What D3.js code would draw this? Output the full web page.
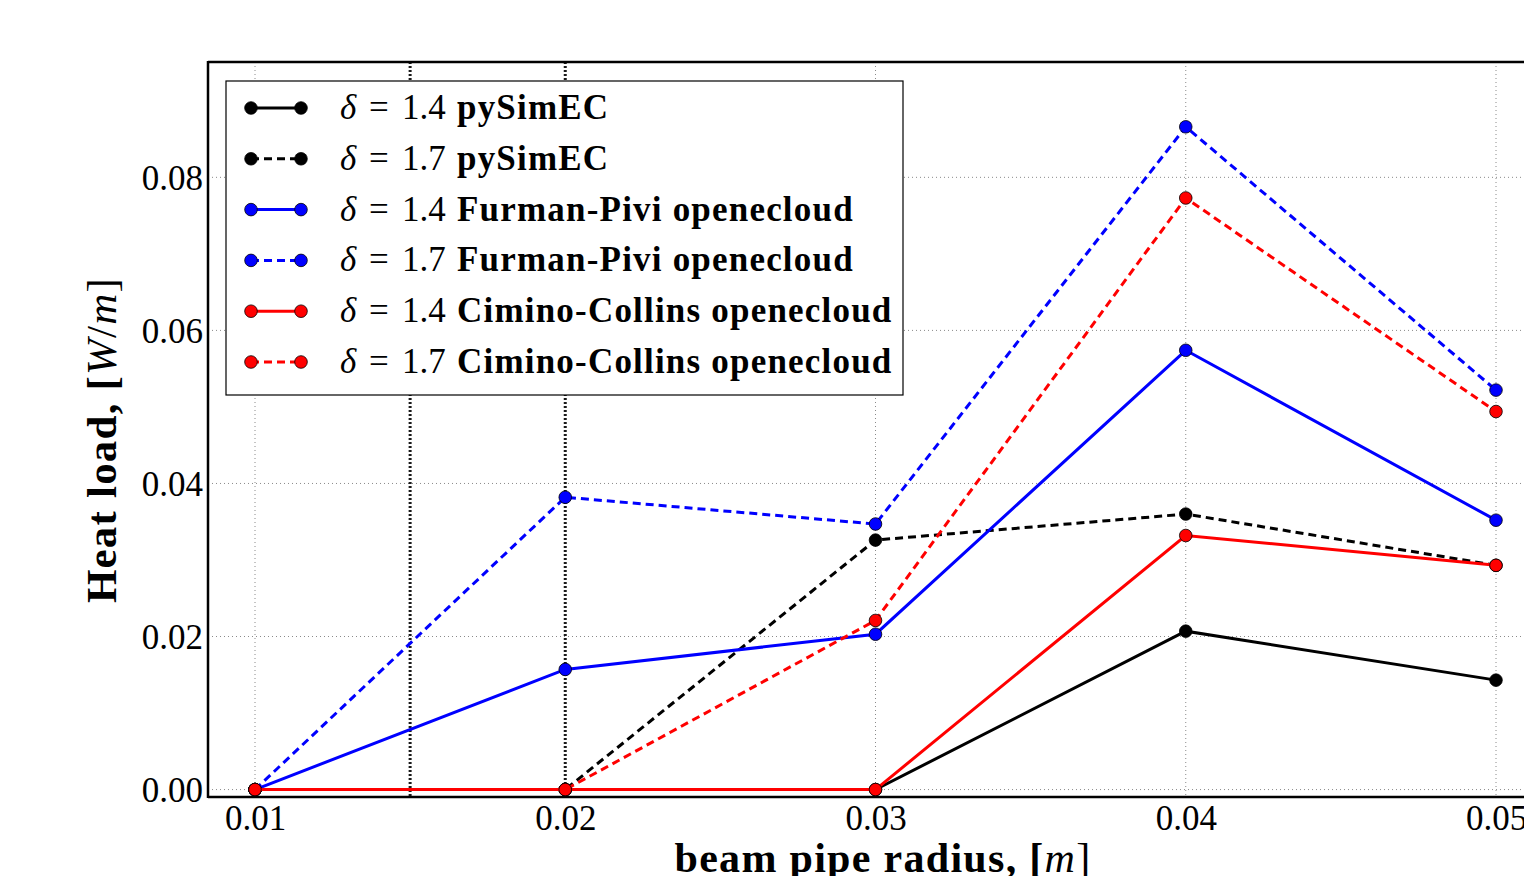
<!DOCTYPE html>
<html>
<head>
<meta charset="utf-8">
<script src="https://cdn.jsdelivr.net/npm/d3@7/dist/d3.min.js"></script>
<style>
  body { margin: 0; background: #fff; }
  svg text { font-family: "Liberation Serif", "DejaVu Serif", serif; }
</style>
</head>
<body>
<div id="chart"></div>
<script>
// beam pipe radius [m]
const radii = [0.01, 0.02, 0.03, 0.04, 0.05];

// heat load [W/m] per model
const pySimEC14 = [0, 0, 0, 0.0207, 0.0143];
const pySimEC17 = [0, 0, 0.0326, 0.0360, 0.0293];
const furman14 = [0, 0.0157, 0.0203, 0.0574, 0.0352];
const furman17 = [0, 0.0382, 0.0347, 0.0866, 0.0522];
const cimino14 = [0, 0, 0, 0.0332, 0.0293];
const cimino17 = [0, 0, 0.0221, 0.0773, 0.0494];

const seriesNames = ['pySimEC', 'pySimEC', 'Furman-Pivi openecloud', 'Furman-Pivi openecloud',
  'Cimino-Collins openecloud', 'Cimino-Collins openecloud'];
const deltas = ['1.4', '1.7', '1.4', '1.7', '1.4', '1.7'];
const seriesValues = [pySimEC14, pySimEC17, furman14, furman17, cimino14, cimino17];
const seriesColors = ['#000000', '#000000', '#0000ff', '#0000ff', '#ff0000', '#ff0000'];
const seriesDashed = [false, true, false, true, false, true];

const xTicks = [0.01, 0.02, 0.03, 0.04, 0.05];
const yTicks = [0.00, 0.02, 0.04, 0.06, 0.08];
// dark dotted marker lines
const markerLines = [0.015, 0.02];

const config = {
  width: 1524,
  height: 876,
  margin: { left: 208, top: 62, right: 0, bottom: 79 }
}

const svg = d3.select('#chart').append('svg')
  .attr('width', config.width)
  .attr('height', config.height);

const plotLeft = config.margin.left;
const plotTop = config.margin.top;
const plotBottom = config.height - config.margin.bottom;

const xScale = d3.scaleLinear()
  .domain([0.008485, 0.0515])
  .range([plotLeft, plotLeft + (0.0515 - 0.008485) * 31025]);
const yScale = d3.scaleLinear()
  .domain([-0.00097, 0.09507])
  .range([plotBottom, plotTop]);

// Grille
const grid = svg.append('g').attr('class', 'grid');
grid.selectAll('.vgrid')
  .data(xTicks)
  .enter()
  .append('line')
  .attr('x1', d => xScale(d)).attr('x2', d => xScale(d))
  .attr('y1', plotTop).attr('y2', plotBottom)
  .attr('stroke', '#8a8a8a').attr('stroke-width', 1)
  .attr('stroke-dasharray', '1,3');
grid.selectAll('.hgrid')
  .data(yTicks)
  .enter()
  .append('line')
  .attr('x1', plotLeft).attr('x2', config.width)
  .attr('y1', d => yScale(d)).attr('y2', d => yScale(d))
  .attr('stroke', '#8a8a8a').attr('stroke-width', 1)
  .attr('stroke-dasharray', '1,3');

grid.selectAll('.marker')
  .data(markerLines)
  .enter()
  .append('line')
  .attr('x1', d => xScale(d)).attr('x2', d => xScale(d))
  .attr('y1', plotTop).attr('y2', plotBottom)
  .attr('stroke', '#1a1a1a').attr('stroke-width', 3)
  .attr('stroke-dasharray', '2,2');

// Courbes
const line = d3.line()
  .x((d, i) => xScale(radii[i]))
  .y(d => yScale(d));

const curves = svg.append('g').attr('class', 'curves');
seriesValues.forEach((vals, k) => {
  curves.append('path')
    .datum(vals)
    .attr('d', line)
    .attr('fill', 'none')
    .attr('stroke', seriesColors[k])
    .attr('stroke-width', 3)
    .attr('stroke-dasharray', seriesDashed[k] ? '8,5' : null);
  curves.append('g').selectAll('circle')
    .data(vals)
    .enter()
    .append('circle')
    .attr('cx', (d, i) => xScale(radii[i]))
    .attr('cy', d => yScale(d))
    .attr('r', 6.3)
    .attr('fill', seriesColors[k])
    .attr('stroke', '#000')
    .attr('stroke-width', 0.8);
});

// Cadre
svg.append('line')
  .attr('x1', plotLeft).attr('x2', plotLeft)
  .attr('y1', plotTop - 1).attr('y2', plotBottom + 1)
  .attr('stroke', '#000').attr('stroke-width', 2.5);
svg.append('line')
  .attr('x1', plotLeft).attr('x2', config.width)
  .attr('y1', plotTop).attr('y2', plotTop)
  .attr('stroke', '#000').attr('stroke-width', 2.5);
svg.append('line')
  .attr('x1', plotLeft).attr('x2', config.width)
  .attr('y1', plotBottom).attr('y2', plotBottom)
  .attr('stroke', '#000').attr('stroke-width', 2.5);

// Axes
const xAxis = svg.append('g')
  .attr('transform', `translate(0, ${plotBottom})`)
  .call(d3.axisBottom(xScale).tickValues(xTicks).tickFormat(d3.format('.2f')).tickSize(0).tickPadding(8));
const yAxis = svg.append('g')
  .attr('transform', `translate(${plotLeft}, 0)`)
  .call(d3.axisLeft(yScale).tickValues(yTicks).tickFormat(d3.format('.2f')).tickSize(0).tickPadding(5));
[xAxis, yAxis].forEach(a => {
  a.select('.domain').remove();
  a.selectAll('text')
    .attr('font-family', '"Liberation Serif", serif')
    .attr('font-size', 35)
    .attr('fill', '#000');
});
yAxis.selectAll('text').attr('dy', '0.35em');

// Libellés des axes
const yLabel = svg.append('text')
  .attr('transform', 'translate(116, 440) rotate(-90)')
  .attr('text-anchor', 'middle')
  .attr('font-size', 43)
  .attr('letter-spacing', 1.2)
  .attr('font-weight', 'bold');
yLabel.append('tspan').text('Heat load, [');
yLabel.append('tspan').text('W').attr('font-style', 'italic').attr('font-weight', 'normal');
yLabel.append('tspan').text('/').attr('font-weight', 'normal');
yLabel.append('tspan').text('m').attr('font-style', 'italic').attr('font-weight', 'normal');
yLabel.append('tspan').text(']').attr('font-weight', 'normal');

const xLabel = svg.append('text')
  .attr('x', 883).attr('y', 872)
  .attr('text-anchor', 'middle')
  .attr('font-size', 42)
  .attr('letter-spacing', 1.3)
  .attr('font-weight', 'bold');
xLabel.append('tspan').text('beam pipe radius, [');
xLabel.append('tspan').text('m').attr('font-style', 'italic').attr('font-weight', 'normal');
xLabel.append('tspan').text(']').attr('font-weight', 'normal');

// Légende
const legend = svg.append('g').attr('class', 'legend');
legend.append('rect')
  .attr('x', 226).attr('y', 81)
  .attr('width', 677).attr('height', 314)
  .attr('fill', '#fff')
  .attr('stroke', '#000').attr('stroke-width', 1.2);

const cells = legend.selectAll('.cell')
  .data(seriesValues)
  .enter()
  .append('g')
  .attr('class', 'cell')
  .attr('transform', (d, i) => `translate(0, ${108 + 50.8 * i})`);

cells.append('line')
  .attr('x1', 251).attr('x2', 301)
  .attr('stroke', (d, i) => seriesColors[i])
  .attr('stroke-width', 3)
  .attr('stroke-dasharray', (d, i) => seriesDashed[i] ? '8,5' : null);
cells.selectAll('circle')
  .data((d, i) => [[251, seriesColors[i]], [301, seriesColors[i]]])
  .enter()
  .append('circle')
  .attr('cx', d => d[0])
  .attr('r', 6.3)
  .attr('fill', d => d[1])
  .attr('stroke', '#000').attr('stroke-width', 0.8);

const labels = cells.append('text')
  .attr('y', 11)
  .attr('font-size', 35);
labels.append('tspan').attr('x', 340).text('δ').attr('font-style', 'italic');
labels.append('tspan').attr('x', 369).text('=').attr('letter-spacing', 0);
labels.append('tspan').attr('x', 402).text((d, i) => deltas[i]);
labels.append('tspan').attr('x', 457)
  .text((d, i) => seriesNames[i])
  .attr('font-weight', 'bold')
  .attr('letter-spacing', 1.2);
</script>
</body>
</html>
